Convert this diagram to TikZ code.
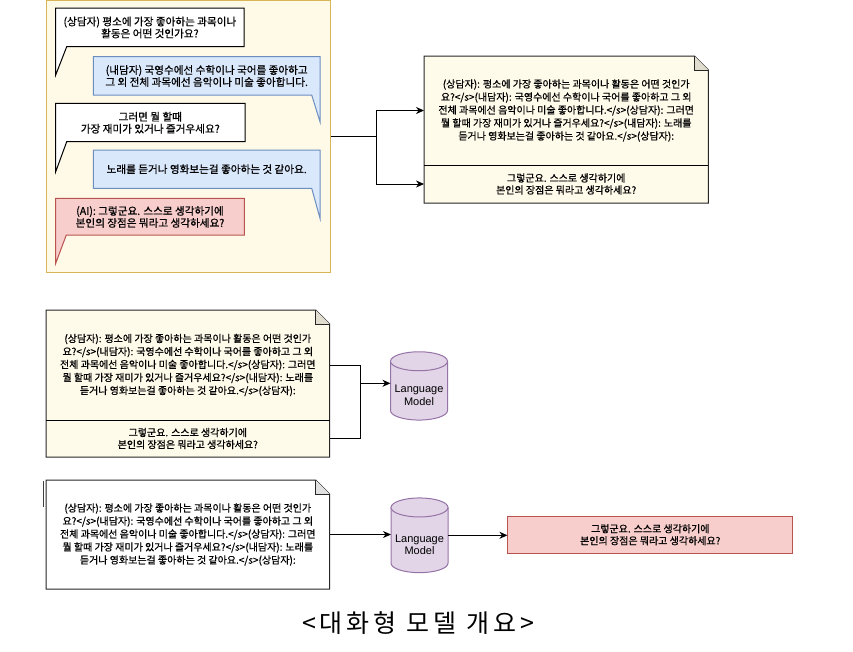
\documentclass[tikz,border=0pt]{standalone}
\usepackage{fontspec}
\setmainfont{Noto Sans CJK KR}[RawFeature={embolden=0.7}]
\newfontfamily\lmfont{Liberation Sans}
\newfontfamily\titlefont{Noto Sans CJK KR}[LetterSpace=16]
\usetikzlibrary{arrows.meta,positioning,backgrounds}

\definecolor{framefill}{HTML}{FFF9E8}
\definecolor{frameline}{HTML}{D6B656}
\definecolor{notefill}{HTML}{FFFBEB}
\definecolor{bluefill}{HTML}{DAE8FC}
\definecolor{blueline}{HTML}{6C8EBF}
\definecolor{redfill}{HTML}{F8CECC}
\definecolor{redline}{HTML}{B85450}
\definecolor{lmfill}{HTML}{E1D5E7}
\definecolor{lmline}{HTML}{9673A6}

\tikzset{
  msg/.style={align=center, font=\fontsize{10.6}{12}\selectfont, inner sep=0pt},
  notetxt/.style={align=center, font=\fontsize{10}{13}\selectfont, inner sep=0pt, outer sep=0pt},
  qbox/.style={draw=black, fill=white, line width=1pt, line join=miter},
  abox/.style={draw=blueline, fill=bluefill, line width=1pt},
  aibox/.style={draw=redline, fill=redfill, line width=1pt},
  lmcyl/.style={draw=lmline, fill=lmfill, line width=1pt},
  lmbody/.style={minimum width=57pt, inner sep=0pt, outer sep=0pt},
  conn/.style={line width=1pt, -{Stealth[length=8pt,width=7pt,inset=2.5pt]}},
  plain/.style={line width=1pt}
}

\newcommand{\dogear}[3]{%
  \draw[fill=#3, draw=black!85, line width=1pt] (#1.north west) -- ([xshift=-14pt]#1.north east)
    -- ([yshift=-14pt]#1.north east) -- (#2.south east) -- (#2.south west) -- cycle;
  \draw[fill=#3!88!black, draw=black!85, line width=1pt] ([xshift=-14pt]#1.north east)
    -- ([xshift=-14pt,yshift=-14pt]#1.north east) -- ([yshift=-14pt]#1.north east);}
\newcommand{\drum}[1]{%
  \draw[lmcyl] ([yshift=-9.5pt]#1.north west) -- ([yshift=9.5pt]#1.south west)
    arc[start angle=180, end angle=360, x radius=28.5pt, y radius=9.5pt] -- ([yshift=-9.5pt]#1.north east);
  \draw[lmcyl] ([yshift=-9.5pt]#1.north) ellipse[x radius=28.5pt, y radius=9.5pt];}

\begin{document}
\begin{tikzpicture}[x=1pt, y=-1pt]
\useasboundingbox (0,0) rectangle (853,651);

\node[draw=frameline, fill=framefill, line width=1pt, minimum width=284pt, minimum height=272pt, inner sep=0pt] (dialog) at (188,136) {};

\draw[qbox] (55.7,8) -- (244,8) -- (244,46.7) -- (66.7,46.7) -- (55.7,75) -- cycle;
\node[msg] (q1) at (149.9,27.5) {(상담자) 평소에 가장 좋아하는 과목이나\\활동은 어떤 것인가요?};
\draw[abox] (93.3,56.7) -- (320,56.7) -- (320,121.7) -- (311.7,95) -- (93.3,95) -- cycle;
\node[msg] (a1) at (206.7,76) {(내담자) 국영수에선 수학이나 국어를 좋아하고\\그 외 전체 과목에선 음악이나 미술 좋아합니다.};
\draw[qbox] (55.7,103.3) -- (245,103.3) -- (245,141.7) -- (66.7,141.7) -- (55.7,171.7) -- cycle;
\node[msg] (q2) at (150.3,122.7) {그러면 뭘 할때\\가장 재미가 있거나 즐거우세요?};
\draw[abox] (93.3,150) -- (320,150) -- (320,218.3) -- (311.7,188.3) -- (93.3,188.3) -- cycle;
\node[msg] (a2) at (206.7,169.2) {노래를 듣거나 영화보는걸 좋아하는 것 같아요.};
\draw[aibox] (55.7,198.3) -- (244.3,198.3) -- (244.3,235) -- (66.3,235) -- (55.7,263.3) -- cycle;
\node[msg] (ai) at (150,216.9) {(AI): 그렇군요. 스스로 생각하기에\\본인의 장점은 뭐라고 생각하세요?};

\node[notetxt, minimum width=284.3pt, minimum height=109pt] (hist1) at (566.2,110.5) {(상담자): 평소에 가장 좋아하는 과목이나 활동은 어떤 것인가\\요?</s>(내담자): 국영수에선 수학이나 국어를 좋아하고 그 외\\전체 과목에선 음악이나 미술 좋아합니다.</s>(상담자): 그러면\\뭘 할때 가장 재미가 있거나 즐거우세요?</s>(내담자): 노래를\\듣거나 영화보는걸 좋아하는 것 같아요.</s>(상담자):};
\node[notetxt, minimum width=284.3pt, minimum height=38pt, font=\fontsize{10}{12}\selectfont, below=0pt of hist1] (resp1) {그렇군요. 스스로 생각하기에\\본인의 장점은 뭐라고 생각하세요?};
\begin{scope}[on background layer]
\dogear{hist1}{resp1}{notefill}
\end{scope}
\draw[plain] (hist1.south west) -- (hist1.south east);

\coordinate (split) at (376.7,136);
\draw[plain] (dialog.east) -- (split);
\draw[conn] (split) |- (hist1.west);
\draw[conn] (split) |- (resp1.west);

\node[notetxt, minimum width=283.5pt, minimum height=110pt] (hist2) at (187.8,365) {(상담자): 평소에 가장 좋아하는 과목이나 활동은 어떤 것인가\\요?</s>(내담자): 국영수에선 수학이나 국어를 좋아하고 그 외\\전체 과목에선 음악이나 미술 좋아합니다.</s>(상담자): 그러면\\뭘 할때 가장 재미가 있거나 즐거우세요?</s>(내담자): 노래를\\듣거나 영화보는걸 좋아하는 것 같아요.</s>(상담자):};
\node[notetxt, minimum width=283.5pt, minimum height=37pt, font=\fontsize{10}{12}\selectfont, below=0pt of hist2] (resp2) {그렇군요. 스스로 생각하기에\\본인의 장점은 뭐라고 생각하세요?};
\begin{scope}[on background layer]
\dogear{hist2}{resp2}{notefill}
\end{scope}
\draw[plain] (hist2.south west) -- (hist2.south east);

\node[lmbody, minimum height=68.3pt] (lm1) at (419,385.9) {};
\drum{lm1}
\node[align=center, font=\lmfont\fontsize{11}{12.5}\selectfont, inner sep=0pt] (lm1txt) at ([yshift=-9.5pt]lm1.center) {Language\\Model};
\coordinate (merge) at (360,383.3);
\draw[plain] (hist2.east) -| (merge);
\draw[plain] (resp2.east) -| (merge);
\draw[conn] (merge) -- (merge -| lm1.west);

\node[notetxt, minimum width=283.5pt, minimum height=109pt] (hist3) at (187.8,534.5) {(상담자): 평소에 가장 좋아하는 과목이나 활동은 어떤 것인가\\요?</s>(내담자): 국영수에선 수학이나 국어를 좋아하고 그 외\\전체 과목에선 음악이나 미술 좋아합니다.</s>(상담자): 그러면\\뭘 할때 가장 재미가 있거나 즐거우세요?</s>(내담자): 노래를\\듣거나 영화보는걸 좋아하는 것 같아요.</s>(상담자):};
\begin{scope}[on background layer]
\dogear{hist3}{hist3}{white}
\end{scope}
\draw[line width=1.3pt, black!75] (43.3,481) -- (43.3,507);

\node[lmbody, minimum height=74.7pt] (lm2) at (419.5,535.3) {};
\drum{lm2}
\node[align=center, font=\lmfont\fontsize{11}{12.5}\selectfont, inner sep=0pt] (lm2txt) at ([yshift=-9.5pt]lm2.center) {Language\\Model};

\node[draw=redline, fill=redfill, line width=1pt, minimum width=284.7pt, minimum height=37.3pt, inner sep=0pt, align=center, font=\fontsize{10}{12}\selectfont] (reply) at (650.3,534.7) {그렇군요. 스스로 생각하기에\\본인의 장점은 뭐라고 생각하세요?};
\draw[conn] (hist3.east) -- (hist3.east -| lm2.west);
\draw[conn] (lm2.east) -- (lm2.east -| reply.west);

\node[font=\titlefont\fontsize{25}{28}\selectfont, inner sep=0pt] (title) at (418,623) {<대화형 모델 개요>};
\end{tikzpicture}
\end{document}
